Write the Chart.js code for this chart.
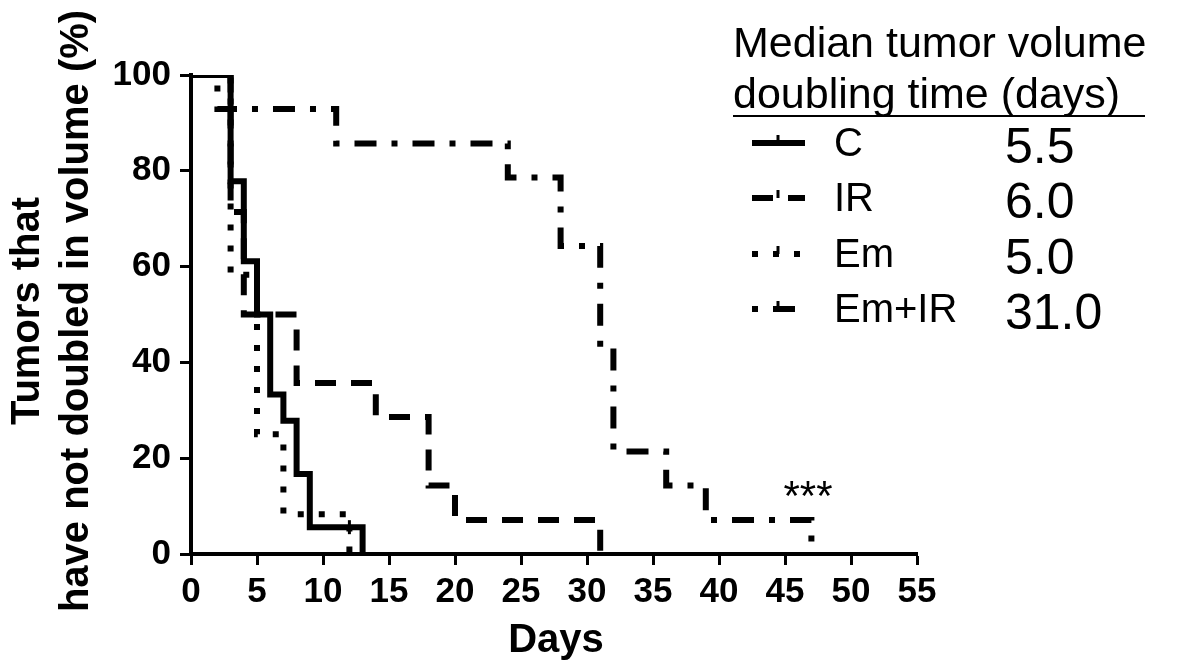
<!DOCTYPE html>
<html>
<head>
<meta charset="utf-8">
<script src="https://cdn.jsdelivr.net/npm/chart.js@4/dist/chart.umd.min.js"></script>
<style>
    html, body { margin: 0; padding: 0; background: #fff; }
    canvas { display: block; }
</style>
</head>
<body>
<canvas id="kmChart" width="1177" height="669"></canvas>
<script>
// days at which each curve steps, and the % still not doubled after the step
let cDays = [0, 3, 4, 5, 6, 7, 8, 9, 13];
let cPct = [100, 77.8, 61.1, 50, 33.3, 27.8, 16.7, 5.6, 0];

let irDays = [0, 3, 4, 8, 14, 18, 20, 31];
let irPct = [100, 71.4, 50, 35.7, 28.6, 14.3, 7.1, 0];

let emDays = [0, 3, 5, 7, 12];
let emPct = [100, 58.3, 25, 8.3, 0];

let emIrDays = [0, 2, 11, 24, 28, 31, 32, 36, 39, 47];
let emIrPct = [100, 92.9, 85.7, 78.6, 64.3, 42.9, 21.4, 14.3, 7.1, 0];

// censored point on the C curve
let cCensorDays = [12];
let cCensorPct = [5.6];

let groupNames = ["C", "IR", "Em", "Em+IR"];
let medianDays = ["5.5", "6.0", "5.0", "31.0"];

let xTicks = [0, 5, 10, 15, 20, 25, 30, 35, 40, 45, 50, 55];
let yTicks = [0, 20, 40, 60, 80, 100];

const FONT = "'Liberation Sans', Arial, Helvetica, sans-serif";

let dashes = [[], [21, 15], [6, 15], [22, 15, 6, 15]];
let legendDashOffset = [0, 0, 0, 37];

function toPoints(xs, ys) {
    return xs.map((d, i) => ({ x: d, y: ys[i] }));
}

function curve(label, xs, ys, dash) {
    return {
        label: label,
        data: toPoints(xs, ys),
        stepped: 'before',
        borderColor: '#000',
        borderWidth: 6,
        borderDash: dash,
        borderCapStyle: 'butt',
        borderJoinStyle: 'miter',
        pointRadius: 0,
        fill: false
    };
}

let textPlugin = {
    id: 'textPlugin',
    afterDraw(chart) {
        let ctx = chart.ctx;
        ctx.save();
        ctx.fillStyle = '#000';
        ctx.strokeStyle = '#000';

        // y axis title, two rotated lines
        ctx.font = "bold 40px " + FONT;
        ctx.textAlign = 'center';
        ctx.textBaseline = 'middle';
        ctx.save();
        ctx.translate(28, 311);
        ctx.rotate(-Math.PI / 2);
        ctx.fillText("Tumors that", 0, 0);
        ctx.restore();
        ctx.save();
        ctx.translate(77, 311);
        ctx.rotate(-Math.PI / 2);
        ctx.fillText("have not doubled in volume (%)", 0, 0);
        ctx.restore();

        // x axis title
        ctx.font = "bold 40px " + FONT;
        ctx.fillText("Days", 556, 641);

        // legend title
        ctx.font = "43px " + FONT;
        ctx.textAlign = 'left';
        ctx.fillText("Median tumor volume", 733, 45);
        ctx.fillText("doubling time (days)", 733, 96);
        ctx.lineWidth = 2;
        ctx.beginPath();
        ctx.moveTo(733, 116);
        ctx.lineTo(1145, 116);
        ctx.stroke();

        // legend rows
        let rowY = [143, 198, 254, 309];
        groupNames.forEach((name, i) => {
            let y = rowY[i];
            ctx.lineWidth = 6;
            ctx.lineCap = 'butt';
            ctx.setLineDash(dashes[i]);
            ctx.lineDashOffset = legendDashOffset[i];
            ctx.beginPath();
            ctx.moveTo(752, y);
            ctx.lineTo(805, y);
            ctx.stroke();
            ctx.setLineDash([]);
            ctx.lineDashOffset = 0;
            ctx.lineWidth = 3;
            ctx.beginPath();
            ctx.moveTo(778, y - 8);
            ctx.lineTo(778, y);
            ctx.stroke();

            ctx.font = "40px " + FONT;
            ctx.fillText(name, 834, y + 2);
            ctx.font = "50px " + FONT;
            ctx.fillText(medianDays[i], 1005, y + 6);
        });

        // significance mark
        ctx.font = "42px " + FONT;
        ctx.textAlign = 'center';
        ctx.textBaseline = 'alphabetic';
        ctx.fillText("***", 808, 510);

        ctx.restore();
    }
};

let ctx = document.getElementById("kmChart").getContext('2d');

new Chart(ctx, {
    type: 'line',
    data: {
        datasets: [
            curve("C", cDays, cPct, dashes[0]),
            curve("IR", irDays, irPct, dashes[1]),
            curve("Em", emDays, emPct, dashes[2]),
            curve("Em+IR", emIrDays, emIrPct, dashes[3]),
            {
                label: "C censored",
                data: toPoints(cCensorDays, cCensorPct),
                showLine: false,
                pointStyle: 'line',
                rotation: 90,
                pointRadius: 7,
                pointBorderWidth: 3,
                borderColor: '#000',
                backgroundColor: '#000'
            }
        ]
    },
    options: {
        responsive: false,
        animation: false,
        devicePixelRatio: 1,
        layout: {
            padding: { left: 0, top: 75, right: 260, bottom: 0 }
        },
        plugins: {
            legend: { display: false },
            tooltip: { enabled: false }
        },
        scales: {
            x: {
                type: 'linear',
                min: 0,
                max: 55,
                afterBuildTicks: (s) => { s.ticks = xTicks.map(v => ({ value: v })); },
                afterFit: (s) => { s.height = 115; },
                ticks: {
                    color: '#000',
                    padding: 6,
                    maxRotation: 0,
                    font: { family: FONT, size: 35, weight: 'bold' }
                },
                grid: {
                    drawOnChartArea: false,
                    drawTicks: true,
                    tickLength: 11,
                    tickWidth: 3,
                    color: '#000'
                },
                border: { color: '#000', width: 4 }
            },
            y: {
                min: 0,
                max: 100,
                afterBuildTicks: (s) => { s.ticks = yTicks.map(v => ({ value: v })); },
                afterFit: (s) => { s.width = 191; },
                ticks: {
                    color: '#000',
                    padding: 9,
                    font: { family: FONT, size: 35, weight: 'bold' }
                },
                grid: {
                    drawOnChartArea: false,
                    drawTicks: true,
                    tickLength: 11,
                    tickWidth: 3,
                    color: '#000'
                },
                border: { color: '#000', width: 4 }
            }
        }
    },
    plugins: [textPlugin]
});
</script>
</body>
</html>
